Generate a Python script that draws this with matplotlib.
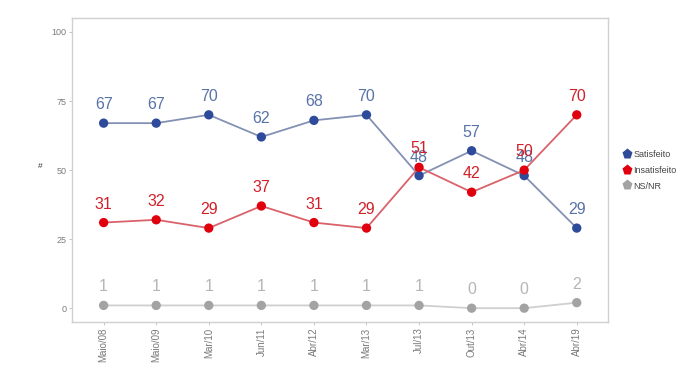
import numpy as np
import matplotlib.pyplot as plt
from matplotlib.lines import Line2D

plt.rcParams['font.family'] = ['Liberation Sans', 'DejaVu Sans']

# Pesquisa: satisfação ao longo do tempo
periods = ['Maio/08', 'Maio/09', 'Mar/10', 'Jun/11', 'Abr/12',
           'Mar/13', 'Jul/13', 'Out/13', 'Abr/14', 'Abr/19']
satisfeito = [67, 67, 70, 62, 68, 70, 48, 57, 48, 29]
insatisfeito = [31, 32, 29, 37, 31, 29, 51, 42, 50, 70]
nsnr = [1, 1, 1, 1, 1, 1, 1, 0, 0, 2]

series = [
    ('Satisfeito', satisfeito, '#2E4A9A', '#8391B3', '#5873A8'),
    ('Insatisfeito', insatisfeito, '#E0000E', '#D9626B', '#D0202A'),
    ('NS/NR', nsnr, '#A3A3A3', '#CFCFCF', '#B5B5B5'),
]

fig = plt.figure(figsize=(7, 3.87), dpi=100)
ax = fig.add_axes([0.103, 0.168, 0.766, 0.785])

x = np.arange(1, len(periods) + 1)
for name, vals, pt_color, line_color, txt_color in series:
    ax.plot(x, vals, color=line_color, lw=1.3, zorder=2)
    ax.scatter(x, vals, s=45, color=pt_color, zorder=3, edgecolors='none')
    for xi, v in zip(x, vals):
        ax.text(xi, v + 4, str(v), ha='center', va='bottom',
                fontsize=11.5, color=txt_color, zorder=4)

ax.set_xlim(0.4, len(periods) + 0.6)
ax.set_ylim(-5, 105)
ax.set_xticks(x)
ax.set_xticklabels(periods, rotation=90, fontsize=7, color='#7A7A7A')
ax.set_yticks([0, 25, 50, 75, 100])
ax.set_yticklabels(['0', '25', '50', '75', '100'], fontsize=6.5, color='#7A7A7A')
ax.tick_params(axis='both', length=2.5, color='#BBBBBB', width=0.6, pad=1.5)
for sp in ax.spines.values():
    sp.set_color('#D0D0D0')
    sp.set_linewidth(1.0)
ax.set_ylabel('#', fontsize=6, rotation=0, color='#333333', labelpad=8)

handles = [Line2D([0], [0], marker='p', color='none', markerfacecolor=s[2],
                  markeredgecolor='none', markersize=8) for s in series]
fig.legend(handles, [s[0] for s in series], loc='center left',
           bbox_to_anchor=(0.876, 0.56), frameon=False, fontsize=6.5,
           handletextpad=0.1, labelspacing=0.75, handlelength=1.2,
           labelcolor='#444444')

fig.savefig('out.png', dpi=100)
